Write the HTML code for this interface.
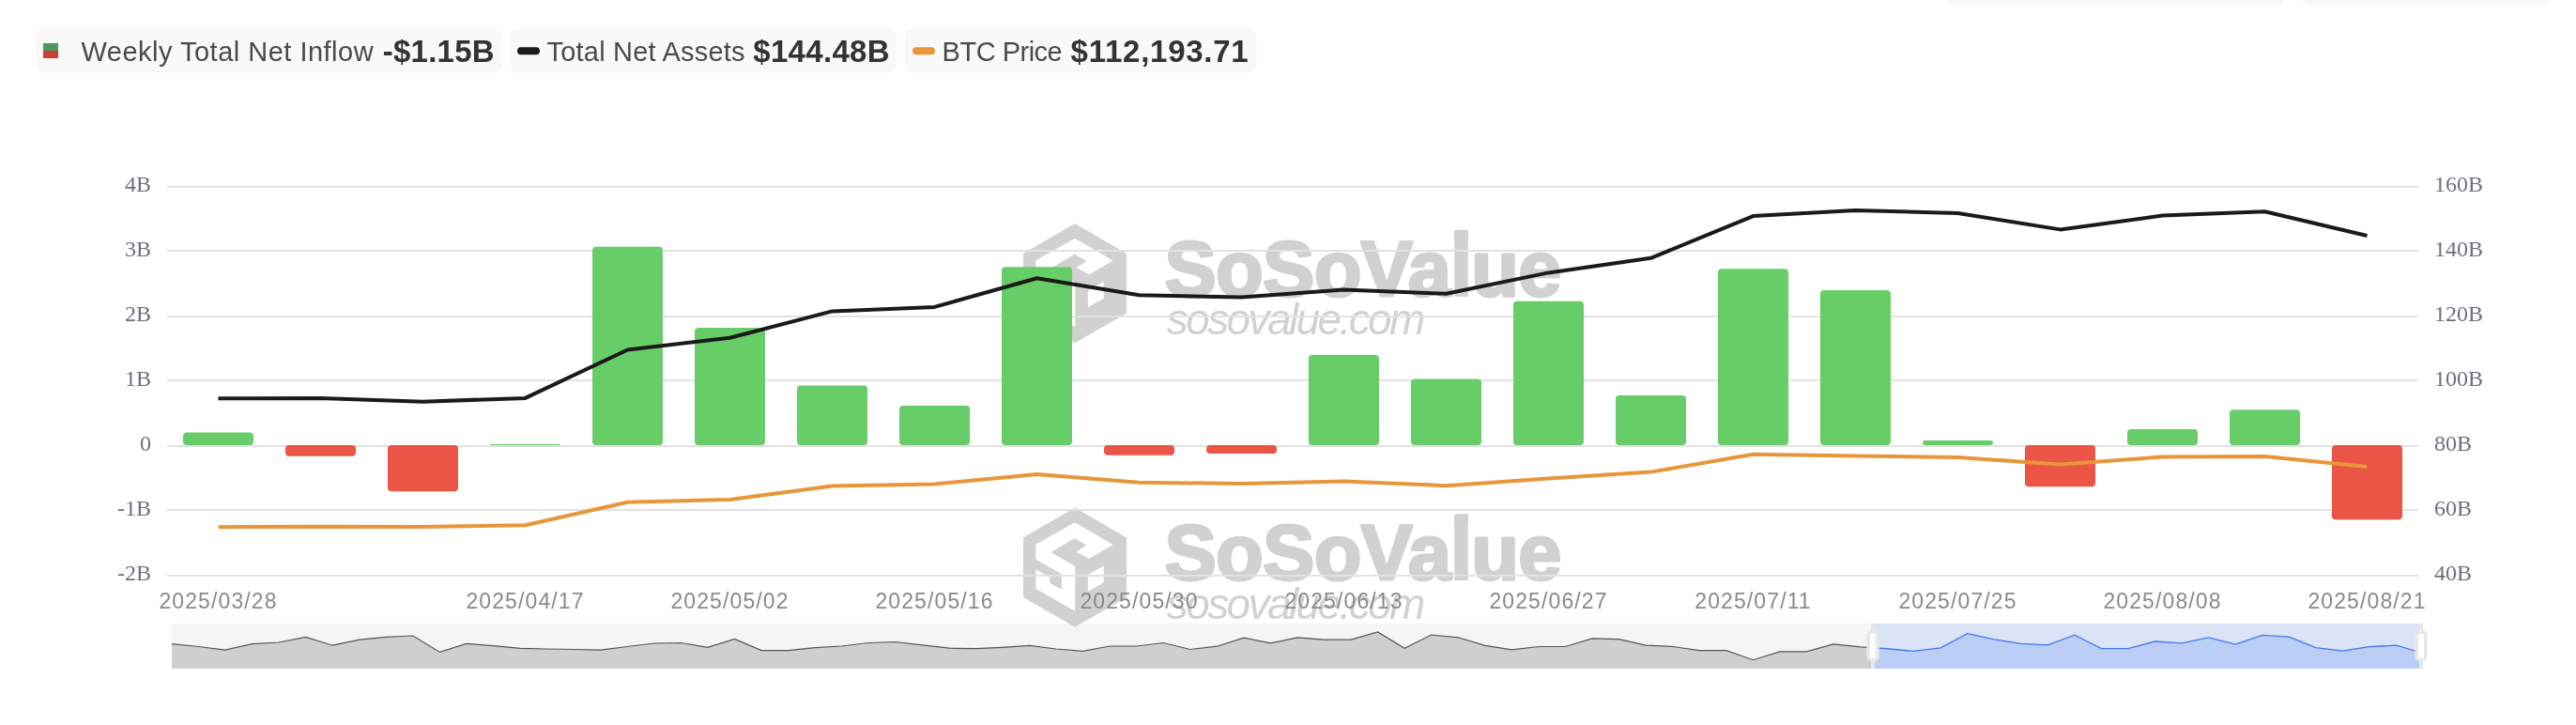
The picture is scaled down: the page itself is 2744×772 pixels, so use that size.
<!DOCTYPE html>
<html><head><meta charset="utf-8"><title>Chart</title>
<style>
html,body{margin:0;padding:0;background:#fff;}
body{width:2744px;height:772px;position:relative;overflow:hidden;font-family:"Liberation Sans",sans-serif;}
</style></head>
<body>
<svg width="2744" height="772" viewBox="0 0 2744 772" style="position:absolute;left:0;top:0;will-change:transform">
<rect x="183.0" y="664.0" width="2398.0" height="48.0" fill="#f5f5f5"/>
<defs><clipPath id="cl"><rect x="0" y="0" width="1997.0" height="772"/></clipPath><clipPath id="cr"><rect x="1997.0" y="0" width="580.0" height="772"/></clipPath></defs>
<g clip-path="url(#cl)"><path d="M183.0,712.0 L183.00,685.60 L211.55,688.50 L240.10,692.10 L268.64,685.60 L297.19,684.00 L325.74,678.40 L354.29,687.20 L382.83,681.20 L411.38,678.40 L439.93,677.00 L468.48,694.40 L497.02,685.40 L525.57,687.70 L554.12,690.30 L582.67,691.00 L611.21,691.50 L639.76,692.10 L668.31,688.50 L696.86,685.00 L725.40,684.50 L753.95,689.30 L782.50,680.50 L811.05,692.60 L839.60,692.60 L868.14,689.70 L896.69,688.00 L925.24,684.50 L953.79,683.50 L982.33,686.90 L1010.88,690.20 L1039.43,690.70 L1067.98,689.30 L1096.52,687.40 L1125.07,691.00 L1153.62,693.40 L1182.17,688.00 L1210.71,688.00 L1239.26,684.50 L1267.81,691.50 L1296.36,688.20 L1324.90,679.20 L1353.45,684.80 L1382.00,678.80 L1410.55,681.20 L1439.10,681.20 L1467.64,673.00 L1496.19,690.30 L1524.74,676.00 L1553.29,678.80 L1581.83,687.40 L1610.38,691.80 L1638.93,688.50 L1667.48,688.50 L1696.02,679.90 L1724.57,680.70 L1753.12,687.10 L1781.67,688.50 L1810.21,692.60 L1838.76,692.60 L1867.31,702.70 L1895.86,693.90 L1924.40,693.90 L1952.95,685.80 L1981.50,688.93 L2010.05,690.75 L2038.60,693.44 L2067.14,689.83 L2095.69,674.72 L2124.24,680.92 L2152.79,685.33 L2181.33,686.88 L2209.88,676.26 L2238.43,690.68 L2266.98,690.54 L2295.52,683.01 L2324.07,684.84 L2352.62,678.89 L2381.17,686.09 L2409.71,676.41 L2438.26,678.05 L2466.81,689.54 L2495.36,693.09 L2523.90,688.67 L2552.45,687.18 L2581.00,695.60 L2581.0,712.0 Z" fill="#cfcfcf"/><polyline points="183.00,685.60 211.55,688.50 240.10,692.10 268.64,685.60 297.19,684.00 325.74,678.40 354.29,687.20 382.83,681.20 411.38,678.40 439.93,677.00 468.48,694.40 497.02,685.40 525.57,687.70 554.12,690.30 582.67,691.00 611.21,691.50 639.76,692.10 668.31,688.50 696.86,685.00 725.40,684.50 753.95,689.30 782.50,680.50 811.05,692.60 839.60,692.60 868.14,689.70 896.69,688.00 925.24,684.50 953.79,683.50 982.33,686.90 1010.88,690.20 1039.43,690.70 1067.98,689.30 1096.52,687.40 1125.07,691.00 1153.62,693.40 1182.17,688.00 1210.71,688.00 1239.26,684.50 1267.81,691.50 1296.36,688.20 1324.90,679.20 1353.45,684.80 1382.00,678.80 1410.55,681.20 1439.10,681.20 1467.64,673.00 1496.19,690.30 1524.74,676.00 1553.29,678.80 1581.83,687.40 1610.38,691.80 1638.93,688.50 1667.48,688.50 1696.02,679.90 1724.57,680.70 1753.12,687.10 1781.67,688.50 1810.21,692.60 1838.76,692.60 1867.31,702.70 1895.86,693.90 1924.40,693.90 1952.95,685.80 1981.50,688.93 2010.05,690.75 2038.60,693.44 2067.14,689.83 2095.69,674.72 2124.24,680.92 2152.79,685.33 2181.33,686.88 2209.88,676.26 2238.43,690.68 2266.98,690.54 2295.52,683.01 2324.07,684.84 2352.62,678.89 2381.17,686.09 2409.71,676.41 2438.26,678.05 2466.81,689.54 2495.36,693.09 2523.90,688.67 2552.45,687.18 2581.00,695.60" fill="none" stroke="#555555" stroke-width="1.2"/></g>
<g clip-path="url(#cr)"><rect x="1997.0" y="664.0" width="580.0" height="48.0" fill="#dae4f6"/><path d="M183.0,712.0 L183.00,685.60 L211.55,688.50 L240.10,692.10 L268.64,685.60 L297.19,684.00 L325.74,678.40 L354.29,687.20 L382.83,681.20 L411.38,678.40 L439.93,677.00 L468.48,694.40 L497.02,685.40 L525.57,687.70 L554.12,690.30 L582.67,691.00 L611.21,691.50 L639.76,692.10 L668.31,688.50 L696.86,685.00 L725.40,684.50 L753.95,689.30 L782.50,680.50 L811.05,692.60 L839.60,692.60 L868.14,689.70 L896.69,688.00 L925.24,684.50 L953.79,683.50 L982.33,686.90 L1010.88,690.20 L1039.43,690.70 L1067.98,689.30 L1096.52,687.40 L1125.07,691.00 L1153.62,693.40 L1182.17,688.00 L1210.71,688.00 L1239.26,684.50 L1267.81,691.50 L1296.36,688.20 L1324.90,679.20 L1353.45,684.80 L1382.00,678.80 L1410.55,681.20 L1439.10,681.20 L1467.64,673.00 L1496.19,690.30 L1524.74,676.00 L1553.29,678.80 L1581.83,687.40 L1610.38,691.80 L1638.93,688.50 L1667.48,688.50 L1696.02,679.90 L1724.57,680.70 L1753.12,687.10 L1781.67,688.50 L1810.21,692.60 L1838.76,692.60 L1867.31,702.70 L1895.86,693.90 L1924.40,693.90 L1952.95,685.80 L1981.50,688.93 L2010.05,690.75 L2038.60,693.44 L2067.14,689.83 L2095.69,674.72 L2124.24,680.92 L2152.79,685.33 L2181.33,686.88 L2209.88,676.26 L2238.43,690.68 L2266.98,690.54 L2295.52,683.01 L2324.07,684.84 L2352.62,678.89 L2381.17,686.09 L2409.71,676.41 L2438.26,678.05 L2466.81,689.54 L2495.36,693.09 L2523.90,688.67 L2552.45,687.18 L2581.00,695.60 L2581.0,712.0 Z" fill="#bbcff6"/><polyline points="183.00,685.60 211.55,688.50 240.10,692.10 268.64,685.60 297.19,684.00 325.74,678.40 354.29,687.20 382.83,681.20 411.38,678.40 439.93,677.00 468.48,694.40 497.02,685.40 525.57,687.70 554.12,690.30 582.67,691.00 611.21,691.50 639.76,692.10 668.31,688.50 696.86,685.00 725.40,684.50 753.95,689.30 782.50,680.50 811.05,692.60 839.60,692.60 868.14,689.70 896.69,688.00 925.24,684.50 953.79,683.50 982.33,686.90 1010.88,690.20 1039.43,690.70 1067.98,689.30 1096.52,687.40 1125.07,691.00 1153.62,693.40 1182.17,688.00 1210.71,688.00 1239.26,684.50 1267.81,691.50 1296.36,688.20 1324.90,679.20 1353.45,684.80 1382.00,678.80 1410.55,681.20 1439.10,681.20 1467.64,673.00 1496.19,690.30 1524.74,676.00 1553.29,678.80 1581.83,687.40 1610.38,691.80 1638.93,688.50 1667.48,688.50 1696.02,679.90 1724.57,680.70 1753.12,687.10 1781.67,688.50 1810.21,692.60 1838.76,692.60 1867.31,702.70 1895.86,693.90 1924.40,693.90 1952.95,685.80 1981.50,688.93 2010.05,690.75 2038.60,693.44 2067.14,689.83 2095.69,674.72 2124.24,680.92 2152.79,685.33 2181.33,686.88 2209.88,676.26 2238.43,690.68 2266.98,690.54 2295.52,683.01 2324.07,684.84 2352.62,678.89 2381.17,686.09 2409.71,676.41 2438.26,678.05 2466.81,689.54 2495.36,693.09 2523.90,688.67 2552.45,687.18 2581.00,695.60" fill="none" stroke="#4277f0" stroke-width="1.3"/></g>
<rect x="1993.0" y="664.0" width="4" height="48.0" fill="#e6e6e6"/>
<rect x="1988.4" y="670.8" width="13.2" height="34" rx="6" ry="6" fill="#e8e8e8"/>
<rect x="1992.0" y="675" width="6" height="25.8" rx="1" ry="1" fill="#fff"/>
<rect x="2577.0" y="664.0" width="4" height="48.0" fill="#e6e6e6"/>
<rect x="2572.4" y="670.8" width="13.2" height="34" rx="6" ry="6" fill="#e8e8e8"/>
<rect x="2576.0" y="675" width="6" height="25.8" rx="1" ry="1" fill="#fff"/>
<polygon points="1145.00,239.00 1199.30,270.40 1199.30,333.10 1145.00,364.30 1090.70,333.10 1090.70,270.40" fill="#d1d1d1" stroke="#d1d1d1" stroke-width="1.5" stroke-linejoin="round"/>
<polygon points="1103.80,277.40 1144.90,254.30 1184.90,277.40 1160.30,291.90 1147.30,285.20 1157.90,277.90 1144.90,270.20 1118.80,285.60 1144.90,300.80 1144.90,347.70 1103.80,324.30 1103.80,304.30 1117.80,312.40 1117.80,318.30 1131.30,326.10 1131.30,308.80 1103.80,292.90" fill="#fff" stroke="#fff" stroke-width="0.8" stroke-linejoin="round"/>
<polygon points="1158.90,309.60 1175.70,299.90 1175.70,317.80 1158.90,327.30" fill="#fff"/>
<text x="1240.5" y="314.5" font-family="Liberation Sans, sans-serif" font-weight="bold" font-size="83" letter-spacing="-0.75" fill="#d1d1d1" stroke="#d1d1d1" stroke-width="3" stroke-linejoin="round">SoSoValue</text>
<rect x="1549" y="244.8" width="15" height="12" rx="1.5" fill="#d1d1d1"/>
<text x="1242.8" y="356.0" font-family="Liberation Sans, sans-serif" font-style="italic" font-size="46" letter-spacing="-2.6" fill="#d1d1d1">sosovalue.com</text>
<polygon points="1145.00,541.50 1199.30,572.90 1199.30,635.60 1145.00,666.80 1090.70,635.60 1090.70,572.90" fill="#d1d1d1" stroke="#d1d1d1" stroke-width="1.5" stroke-linejoin="round"/>
<polygon points="1103.80,579.90 1144.90,556.80 1184.90,579.90 1160.30,594.40 1147.30,587.70 1157.90,580.40 1144.90,572.70 1118.80,588.10 1144.90,603.30 1144.90,650.20 1103.80,626.80 1103.80,606.80 1117.80,614.90 1117.80,620.80 1131.30,628.60 1131.30,611.30 1103.80,595.40" fill="#fff" stroke="#fff" stroke-width="0.8" stroke-linejoin="round"/>
<polygon points="1158.90,612.10 1175.70,602.40 1175.70,620.30 1158.90,629.80" fill="#fff"/>
<text x="1240.5" y="617" font-family="Liberation Sans, sans-serif" font-weight="bold" font-size="83" letter-spacing="-0.75" fill="#d1d1d1" stroke="#d1d1d1" stroke-width="3" stroke-linejoin="round">SoSoValue</text>
<rect x="1549" y="547.3" width="15" height="12" rx="1.5" fill="#d1d1d1"/>
<text x="1242.8" y="658.5" font-family="Liberation Sans, sans-serif" font-style="italic" font-size="46" letter-spacing="-2.6" fill="#d1d1d1">sosovalue.com</text>
<rect x="178" y="198" width="2398" height="2" fill="#e2e2e2"/>
<rect x="178" y="266" width="2398" height="2" fill="#e2e2e2"/>
<rect x="178" y="336" width="2398" height="2" fill="#e2e2e2"/>
<rect x="178" y="404" width="2398" height="2" fill="#e2e2e2"/>
<rect x="178" y="474" width="2398" height="2" fill="#e2e2e2"/>
<rect x="178" y="542" width="2398" height="2" fill="#e2e2e2"/>
<rect x="178" y="612" width="2398" height="2" fill="#e2e2e2"/>
<rect x="195.00" y="460.48" width="75.00" height="13.52" rx="4.00" ry="4.00" fill="#67cd68" />
<rect x="304.00" y="474.00" width="75.00" height="11.87" rx="4.00" ry="4.00" fill="#eb5545" />
<rect x="413.00" y="474.00" width="75.00" height="49.20" rx="4.00" ry="4.00" fill="#eb5545" />
<rect x="522.00" y="472.96" width="75.00" height="1.03" rx="0.52" ry="0.52" fill="#67cd68" />
<rect x="631.00" y="262.86" width="75.00" height="211.14" rx="4.00" ry="4.00" fill="#67cd68" />
<rect x="740.00" y="349.11" width="75.00" height="124.89" rx="4.00" ry="4.00" fill="#67cd68" />
<rect x="849.00" y="410.45" width="75.00" height="63.55" rx="4.00" ry="4.00" fill="#67cd68" />
<rect x="958.00" y="432.05" width="75.00" height="41.95" rx="4.00" ry="4.00" fill="#67cd68" />
<rect x="1067.00" y="284.25" width="75.00" height="189.75" rx="4.00" ry="4.00" fill="#67cd68" />
<rect x="1176.00" y="474.00" width="75.00" height="10.83" rx="4.00" ry="4.00" fill="#eb5545" />
<rect x="1285.00" y="474.00" width="75.00" height="8.90" rx="4.00" ry="4.00" fill="#eb5545" />
<rect x="1394.00" y="378.09" width="75.00" height="95.91" rx="4.00" ry="4.00" fill="#67cd68" />
<rect x="1503.00" y="403.62" width="75.00" height="70.38" rx="4.00" ry="4.00" fill="#67cd68" />
<rect x="1612.00" y="320.82" width="75.00" height="153.18" rx="4.00" ry="4.00" fill="#67cd68" />
<rect x="1721.00" y="420.94" width="75.00" height="53.06" rx="4.00" ry="4.00" fill="#67cd68" />
<rect x="1830.00" y="286.32" width="75.00" height="187.68" rx="4.00" ry="4.00" fill="#67cd68" />
<rect x="1939.00" y="309.09" width="75.00" height="164.91" rx="4.00" ry="4.00" fill="#67cd68" />
<rect x="2048.00" y="469.03" width="75.00" height="4.97" rx="2.48" ry="2.48" fill="#67cd68" />
<rect x="2157.00" y="474.00" width="75.00" height="44.37" rx="4.00" ry="4.00" fill="#eb5545" />
<rect x="2266.00" y="456.96" width="75.00" height="17.04" rx="4.00" ry="4.00" fill="#67cd68" />
<rect x="2375.00" y="436.19" width="75.00" height="37.81" rx="4.00" ry="4.00" fill="#67cd68" />
<rect x="2484.00" y="474.00" width="75.00" height="79.35" rx="4.00" ry="4.00" fill="#eb5545" />
<polyline points="232.50,561.20 341.50,560.70 450.50,561.00 559.50,559.20 668.50,534.80 777.50,531.90 886.50,517.50 995.50,515.50 1104.50,505.10 1213.50,513.70 1322.50,515.00 1431.50,512.50 1540.50,517.20 1649.50,509.50 1758.50,502.60 1867.50,483.70 1976.50,485.40 2085.50,486.90 2194.50,494.40 2303.50,486.60 2412.50,486.00 2521.50,496.90" fill="none" stroke="#e8963a" stroke-width="4" stroke-linejoin="bevel"/>
<polyline points="232.50,424.20 341.50,423.90 450.50,427.70 559.50,423.90 668.50,372.50 777.50,359.70 886.50,331.40 995.50,326.90 1104.50,296.20 1213.50,314.20 1322.50,316.60 1431.50,308.60 1540.50,312.80 1649.50,290.40 1758.50,274.80 1867.50,230.10 1976.50,223.90 2085.50,227.00 2194.50,244.40 2303.50,229.60 2412.50,225.30 2521.50,251.00" fill="none" stroke="#1a1a1a" stroke-width="4" stroke-linejoin="bevel"/>
<text x="161" y="204" text-anchor="end" font-family="Liberation Serif, serif" font-size="24" fill="#6e7079">4B</text>
<text x="2593" y="204" font-family="Liberation Serif, serif" font-size="24" fill="#6e7079">160B</text>
<text x="161" y="273" text-anchor="end" font-family="Liberation Serif, serif" font-size="24" fill="#6e7079">3B</text>
<text x="2593" y="273" font-family="Liberation Serif, serif" font-size="24" fill="#6e7079">140B</text>
<text x="161" y="342" text-anchor="end" font-family="Liberation Serif, serif" font-size="24" fill="#6e7079">2B</text>
<text x="2593" y="342" font-family="Liberation Serif, serif" font-size="24" fill="#6e7079">120B</text>
<text x="161" y="411" text-anchor="end" font-family="Liberation Serif, serif" font-size="24" fill="#6e7079">1B</text>
<text x="2593" y="411" font-family="Liberation Serif, serif" font-size="24" fill="#6e7079">100B</text>
<text x="161" y="480" text-anchor="end" font-family="Liberation Serif, serif" font-size="24" fill="#6e7079">0</text>
<text x="2593" y="480" font-family="Liberation Serif, serif" font-size="24" fill="#6e7079">80B</text>
<text x="161" y="549" text-anchor="end" font-family="Liberation Serif, serif" font-size="24" fill="#6e7079">-1B</text>
<text x="2593" y="549" font-family="Liberation Serif, serif" font-size="24" fill="#6e7079">60B</text>
<text x="161" y="618" text-anchor="end" font-family="Liberation Serif, serif" font-size="24" fill="#6e7079">-2B</text>
<text x="2593" y="618" font-family="Liberation Serif, serif" font-size="24" fill="#6e7079">40B</text>
<text x="232.50" y="648" text-anchor="middle" font-family="Liberation Sans, sans-serif" font-size="23" letter-spacing="1.1" fill="#8a8a8a">2025/03/28</text>
<text x="559.50" y="648" text-anchor="middle" font-family="Liberation Sans, sans-serif" font-size="23" letter-spacing="1.1" fill="#8a8a8a">2025/04/17</text>
<text x="777.50" y="648" text-anchor="middle" font-family="Liberation Sans, sans-serif" font-size="23" letter-spacing="1.1" fill="#8a8a8a">2025/05/02</text>
<text x="995.50" y="648" text-anchor="middle" font-family="Liberation Sans, sans-serif" font-size="23" letter-spacing="1.1" fill="#8a8a8a">2025/05/16</text>
<text x="1213.50" y="648" text-anchor="middle" font-family="Liberation Sans, sans-serif" font-size="23" letter-spacing="1.1" fill="#8a8a8a">2025/05/30</text>
<text x="1431.50" y="648" text-anchor="middle" font-family="Liberation Sans, sans-serif" font-size="23" letter-spacing="1.1" fill="#8a8a8a">2025/06/13</text>
<text x="1649.50" y="648" text-anchor="middle" font-family="Liberation Sans, sans-serif" font-size="23" letter-spacing="1.1" fill="#8a8a8a">2025/06/27</text>
<text x="1867.50" y="648" text-anchor="middle" font-family="Liberation Sans, sans-serif" font-size="23" letter-spacing="1.1" fill="#8a8a8a">2025/07/11</text>
<text x="2085.50" y="648" text-anchor="middle" font-family="Liberation Sans, sans-serif" font-size="23" letter-spacing="1.1" fill="#8a8a8a">2025/07/25</text>
<text x="2303.50" y="648" text-anchor="middle" font-family="Liberation Sans, sans-serif" font-size="23" letter-spacing="1.1" fill="#8a8a8a">2025/08/08</text>
<text x="2521.50" y="648" text-anchor="middle" font-family="Liberation Sans, sans-serif" font-size="23" letter-spacing="1.1" fill="#8a8a8a">2025/08/21</text>
<rect x="38.00" y="30.00" width="497.00" height="47.60" rx="9" ry="9" fill="#f9f9f9" />
<rect x="543.00" y="30.00" width="412.40" height="47.60" rx="9" ry="9" fill="#f9f9f9" />
<rect x="964.00" y="30.00" width="374.50" height="47.60" rx="9" ry="9" fill="#f9f9f9" />
<rect x="2072.00" y="-20.00" width="362.00" height="26.00" rx="10" ry="10" fill="#f8f8f8" />
<rect x="2451.00" y="-20.00" width="265.00" height="26.00" rx="10" ry="10" fill="#f8f8f8" />
<rect x="46" y="46" width="16" height="8" fill="#4a9960"/><rect x="46" y="54" width="16" height="8" fill="#c8432f"/>
<rect x="551.00" y="50.20" width="24.00" height="8.00" rx="4" ry="4" fill="#1a1a1a" />
<rect x="972.00" y="50.20" width="24.00" height="8.00" rx="4" ry="4" fill="#e8963a" />
<text x="86.5" y="65" font-family="Liberation Sans, sans-serif" font-weight="normal" font-size="29" letter-spacing="0.49" fill="#4a4a4a">Weekly Total Net Inflow</text>
<text x="582.5" y="65" font-family="Liberation Sans, sans-serif" font-weight="normal" font-size="29" letter-spacing="0.21" fill="#4a4a4a">Total Net Assets</text>
<text x="1003.6" y="65" font-family="Liberation Sans, sans-serif" font-weight="normal" font-size="29" letter-spacing="-0.5" fill="#4a4a4a">BTC Price</text>
<text x="407.8" y="66.1" font-family="Liberation Sans, sans-serif" font-weight="bold" font-size="33" letter-spacing="0.23" fill="#333333">-$1.15B</text>
<text x="802.3" y="66.1" font-family="Liberation Sans, sans-serif" font-weight="bold" font-size="33" letter-spacing="0.31" fill="#333333">$144.48B</text>
<text x="1140.6" y="66.1" font-family="Liberation Sans, sans-serif" font-weight="bold" font-size="33" letter-spacing="0.74" fill="#333333">$112,193.71</text>
</svg>
</body></html>
